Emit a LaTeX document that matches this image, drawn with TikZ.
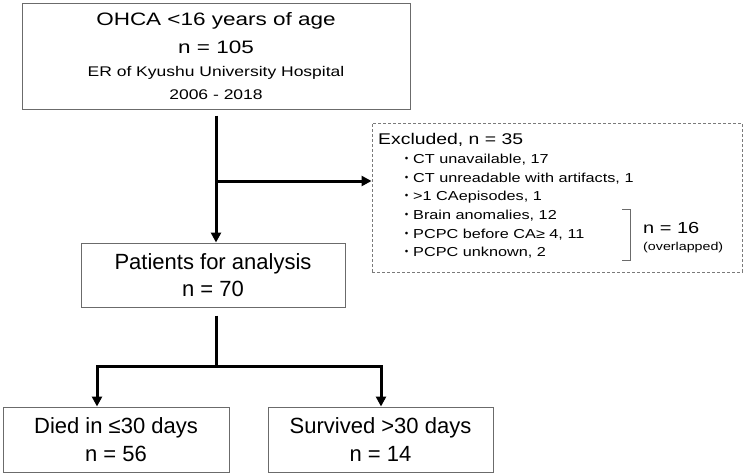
\documentclass[tikz,border=0pt]{standalone}
\usepackage{fontspec}
\setmainfont{Liberation Sans}
\newfontfamily\widefont[FakeStretch=1.25]{Liberation Sans}
\newfontfamily\cjk{Noto Sans CJK JP}
\usetikzlibrary{arrows.meta}
\definecolor{ink}{HTML}{000000}
\definecolor{frame}{HTML}{6B6B6B}
\definecolor{dashgrey}{HTML}{7A7A7A}
\newcommand{\headsize}{\fontsize{18}{28}\selectfont}
\newcommand{\subsize}{\fontsize{14}{18}\selectfont}
\newcommand{\boxsize}{\fontsize{22}{27}\selectfont}
\newcommand{\listsize}{\fontsize{13}{16}\selectfont}
\newcommand{\notesize}{\fontsize{11.4}{14}\selectfont}
\newcommand{\dotmark}{{\cjk ・}}

\begin{document}
\begin{tikzpicture}[x=1pt,y=-1pt,
  box/.style={draw=frame,line width=1pt,fill=white,inner sep=0,align=center,text=ink},
  flow/.style={ink,line width=3pt,-{Triangle[length=10pt,width=10pt]}},
  fork/.style={ink,line width=3pt,{Triangle[length=10pt,width=10pt]}-{Triangle[length=10pt,width=10pt]}},
  trunk/.style={ink,line width=3pt},
  item/.style={anchor=west,inner sep=0,text=ink,font=\widefont\listsize}]
\useasboundingbox (0,0) rectangle (749,475);
\node[box,minimum width=388,minimum height=106,font=\widefont\headsize] (ohca) at (216,56)
  {OHCA <16 years of age\\n = 105\\[-5.5pt]{\subsize ER of Kyushu University Hospital}\\[-5pt]{\subsize 2006 - 2018}};
\node[box,minimum width=264,minimum height=64,font=\boxsize] (pts) at (213,275) {Patients for analysis\\n = 70};
\node[box,minimum width=226,minimum height=65,font=\fontsize{22}{28}\selectfont] (died) at (116,439.5) {Died in ≤30 days\\n = 56};
\node[box,minimum width=225,minimum height=65,font=\fontsize{22}{28}\selectfont] (surv) at (380.5,439.5) {Survived >30 days\\n = 14};
\node[draw=dashgrey,line width=1pt,dash pattern=on 3pt off 2pt,inner sep=0,minimum width=370,minimum height=149] (excl) at (557,197.5) {};
% excluded list
\node[anchor=west,inner sep=0,text=ink,font=\widefont\fontsize{15.5}{18}\selectfont] (exclhead) at (378,140) {Excluded, n = 35};
\node[item] (noct) at (400,160) {\dotmark CT unavailable, 17};
\node[item] (artif) at (400,178.6) {\dotmark CT unreadable with artifacts, 1};
\node[item] (multi) at (400,197.2) {\dotmark >1 CAepisodes, 1};
\node[item] (brain) at (400,215.8) {\dotmark Brain anomalies, 12};
\node[item] (pcpcfour) at (400,234.4) {\dotmark PCPC before CA≥ 4, 11};
\node[item] (pcpcunk) at (400,253) {\dotmark PCPC unknown, 2};
\draw[frame,line width=0.8pt] (622,209) -- (630,209) -- (630,260) -- (622,260);
\node[anchor=west,inner sep=0,text=ink,font=\widefont\fontsize{16}{18}\selectfont] (overlapn) at (643,228) {n = 16};
\node[anchor=west,inner sep=0,text=ink,font=\widefont\notesize] (overlapnote) at (643,248) {(overlapped)};
% connectors
\coordinate (split) at (216,181);
\coordinate (forkL) at (97,366);
\coordinate (forkR) at (381,366);
\draw[flow,shorten <=6pt] (ohca.south) -- (ohca.south |- pts.north);
\draw[flow] (split) -- (split -| excl.west);
\draw[trunk,shorten <=8pt] (pts.south -| ohca.south) -- (ohca.south |- forkL);
\draw[fork] (forkL |- died.north) -- (forkL) -- (forkR) -- (forkR |- surv.north);
\end{tikzpicture}
\end{document}
